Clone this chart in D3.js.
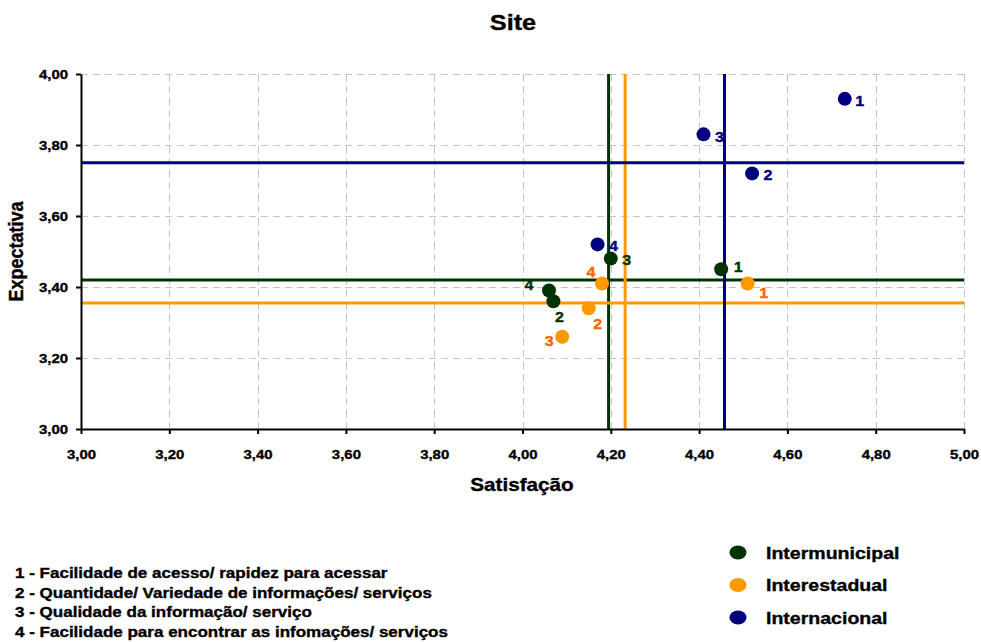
<!DOCTYPE html>
<html>
<head>
<meta charset="utf-8">
<script src="https://cdn.jsdelivr.net/npm/d3@7"></script>
<style>
  body { margin: 0; background: #fff; }
  text { font-family: "Liberation Sans", Arial, sans-serif; font-weight: bold; stroke-width: 0.35px; }
</style>
</head>
<body>
<svg id="chart" width="981" height="642"></svg>
<script>
// Survey items (numbered 1-4) scored by three groups of users
const seriesNames = ["Intermunicipal", "Interestadual", "Internacional"];
const seriesColors = ["#003300", "#ff9900", "#000080"];
const labelColors = ["#003300", "#ff6600", "#000080"];
const itemIds = [1, 2, 3, 4];

const intermunicipalSat = [4.45, 4.07, 4.20, 4.06];
const intermunicipalExp = [3.45, 3.36, 3.48, 3.39];
const interestadualSat = [4.51, 4.15, 4.09, 4.18];
const interestadualExp = [3.41, 3.34, 3.26, 3.41];
const internacionalSat = [4.73, 4.52, 4.41, 4.17];
const internacionalExp = [3.93, 3.72, 3.83, 3.52];

const xTicks = [3.0, 3.2, 3.4, 3.6, 3.8, 4.0, 4.2, 4.4, 4.6, 4.8, 5.0];
const yTicks = [3.0, 3.2, 3.4, 3.6, 3.8, 4.0];

const itemLabels = [
  "1 - Facilidade de acesso/ rapidez para acessar",
  "2 - Quantidade/ Variedade de informações/ serviços",
  "3 - Qualidade da informação/ serviço",
  "4 - Facilidade para encontrar as infomações/ serviços"
];

// Offsets of each item number from its marker, per series
const labelOffsets = [
  [[17, -2], [6, 16], [16, 1], [-20, -6]],
  [[16, 10], [9, 16], [-13, 4], [-11, -11]],
  [[15, 2], [16, 2], [16, 3], [16, 2]]
];

const series = [
  { sat: intermunicipalSat, exp: intermunicipalExp },
  { sat: interestadualSat, exp: interestadualExp },
  { sat: internacionalSat, exp: internacionalExp }
];

const SX = 1.15; // horizontal widening of the lettering
const fmt = v => d3.format(".2f")(v).replace(".", ",");

const svg = d3.select("#chart");
const plotLeft = 81, plotRight = 964, plotTop = 74, plotBottom = 429;

const x = d3.scaleLinear().domain([3, 5]).range([plotLeft, plotRight]);
const y = d3.scaleLinear().domain([3, 4]).range([plotBottom, plotTop]);

function label(g, tx, ty, str, size, anchor, color, extra) {
  const c = color || "#000";
  return g.append("text")
    .attr("transform", `translate(${tx},${ty}) scale(${SX},1)` + (extra || ""))
    .attr("text-anchor", anchor || "start")
    .attr("font-size", size)
    .attr("fill", c)
    .attr("stroke", c)
    .text(str);
}

// Title
label(svg, 513, 30, "Site", 22, "middle");

// Dashed grid
const grid = svg.append("g")
  .attr("stroke", "#c4c4c4").attr("stroke-width", 1).attr("stroke-dasharray", "7,5");
grid.selectAll("line.v").data(xTicks.slice(1)).join("line").attr("class", "v")
  .attr("x1", d => Math.round(x(d)) + 0.5).attr("x2", d => Math.round(x(d)) + 0.5)
  .attr("y1", plotTop).attr("y2", plotBottom);
grid.selectAll("line.h").data(yTicks.slice(1)).join("line").attr("class", "h")
  .attr("y1", d => Math.round(y(d)) + 0.5).attr("y2", d => Math.round(y(d)) + 0.5)
  .attr("x1", plotLeft).attr("x2", plotRight);

// Mean reference lines per group
const means = svg.append("g").attr("stroke-width", 3);
series.forEach((s, i) => {
  const mx = d3.mean(s.sat), my = d3.mean(s.exp);
  means.append("line").attr("stroke", seriesColors[i])
    .attr("x1", x(mx)).attr("x2", x(mx)).attr("y1", plotTop).attr("y2", plotBottom);
  means.append("line").attr("stroke", seriesColors[i])
    .attr("x1", plotLeft).attr("x2", plotRight).attr("y1", y(my)).attr("y2", y(my));
});

// Axes
const xAxis = svg.append("g").attr("transform", `translate(0,${plotBottom})`)
  .call(d3.axisBottom(x).tickValues(xTicks).tickFormat(fmt).tickSize(5).tickSizeOuter(0));
const yAxis = svg.append("g").attr("transform", `translate(${plotLeft},0)`)
  .call(d3.axisLeft(y).tickValues(yTicks).tickFormat(fmt).tickSize(5).tickSizeOuter(0));

[xAxis, yAxis].forEach(a => {
  a.attr("font-family", null).attr("font-size", null);
  a.select(".domain").attr("stroke", "#000").attr("stroke-width", 2);
  a.selectAll(".tick line").attr("stroke", "#000").attr("stroke-width", 2);
  a.selectAll(".tick text").attr("font-size", 13).attr("fill", "#000").attr("stroke", "#000");
});
xAxis.selectAll(".tick text").attr("y", 30).attr("dy", null)
  .attr("transform", `scale(${SX},1)`);
yAxis.selectAll(".tick text").attr("x", -13 / SX).attr("dy", "0.36em")
  .attr("transform", `scale(${SX},1)`);

// Axis titles
label(svg, 522, 491, "Satisfação", 18, "middle");
label(svg, 23, (plotTop + plotBottom) / 2, "Expectativa", 18, "middle", null, " rotate(-90)");

// Points and item numbers
series.forEach((s, i) => {
  const g = svg.append("g");
  g.selectAll("circle").data(itemIds).join("circle")
    .attr("cx", (d, j) => x(s.sat[j]))
    .attr("cy", (d, j) => y(s.exp[j]))
    .attr("r", 7)
    .attr("fill", seriesColors[i]);
  itemIds.forEach((id, j) => {
    const off = labelOffsets[i][j];
    label(g, x(s.sat[j]) + off[0], y(s.exp[j]) + off[1] + 5, String(id), 14, "middle", labelColors[i]);
  });
});

// Item key
const key = svg.append("g");
itemLabels.forEach((t, k) => {
  label(key, 15, 578 + k * 19.7, t, 14.8, "start");
});

// Group legend
const legend = svg.append("g");
seriesNames.forEach((n, i) => {
  const cy = 552.5 + i * 32.5;
  legend.append("ellipse").attr("cx", 738).attr("cy", cy).attr("rx", 8.5).attr("ry", 7)
    .attr("fill", seriesColors[i]);
  label(legend, 766, cy + 6, n, 17, "start");
});
</script>
</body>
</html>
